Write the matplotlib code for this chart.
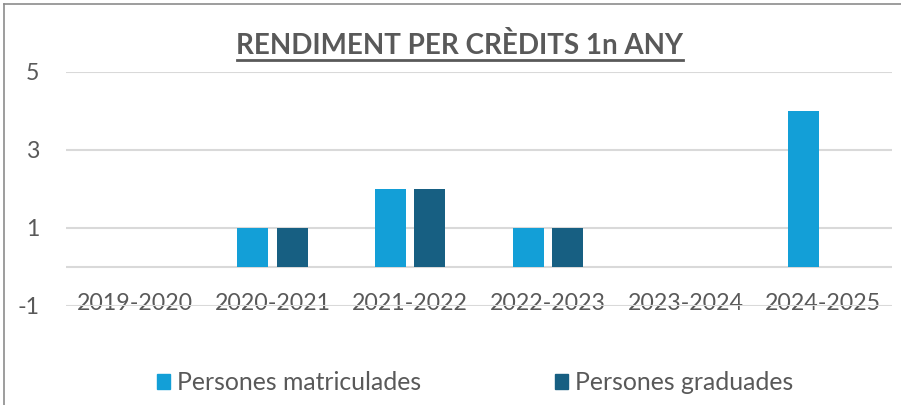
import matplotlib
matplotlib.use("Agg")
import matplotlib.pyplot as plt
import numpy as np
from matplotlib.lines import Line2D
from matplotlib.patches import Rectangle

categories = ["2019-2020", "2020-2021", "2021-2022", "2022-2023", "2023-2024", "2024-2025"]
matriculades = [0, 1, 2, 1, 0, 4]
graduades = [0, 1, 2, 1, 0, 0]
series_names = ["Persones matriculades", "Persones graduades"]
yticks = [-1, 1, 3, 5]
title = "RENDIMENT PER CRÈDITS 1n ANY"

c_light = "#139FD7"
c_dark = "#175F82"
txt = "#595959"
grid = "#D9D9D9"

plt.rcParams['font.family'] = ['Lato', 'DejaVu Sans']

fig = plt.figure(figsize=(9.01, 4.05), dpi=100)
ax = fig.add_axes([66/901, 1-306/405, (892-66)/901, (306-72)/405])

x = np.arange(len(categories))
w = 0.225
ax.bar(x - 0.143, matriculades, width=w, color=c_light, zorder=3)
ax.bar(x + 0.143, graduades, width=w, color=c_dark, zorder=3)

ax.set_xlim(-0.5, len(categories) - 0.5)
ax.set_ylim(-1, 5)
ax.set_yticks(yticks)
ax.set_yticklabels([str(v) for v in yticks])
ax.yaxis.grid(True, color=grid, linewidth=1.5, zorder=0)
ax.axhline(0, color=grid, linewidth=1.5, zorder=1)
ax.set_xticks(x)
ax.set_xticklabels(categories)
ax.tick_params(axis='x', length=0, pad=-9.5, labelsize=16.7, labelcolor=txt)
ax.tick_params(axis='y', length=0, pad=19, labelsize=16.7, labelcolor=txt)
for s in ax.spines.values():
    s.set_visible(False)

fig.text(460/901, 1-45/405, title, ha='center', va='center', fontsize=20,
         fontweight='bold', color=txt)
# underline
fig.add_artist(Line2D([237/901, 683/901], [1-59.5/405, 1-59.5/405], color=txt, linewidth=2))

handles = [Rectangle((0, 0), 1, 1, color=c_light), Rectangle((0, 0), 1, 1, color=c_dark)]
fig.legend(handles, series_names, loc='center', bbox_to_anchor=(475/901, 1-383/405),
           ncol=2, frameon=False, fontsize=17.8, labelcolor=txt, handlelength=0.53,
           handleheight=0.53, handletextpad=0.28, columnspacing=5.4,
           borderpad=0, borderaxespad=0)

# chart frame
fig.add_artist(Line2D([3.5/901, 3.5/901], [0, 1-3.5/405], color="#8C8C8C", linewidth=1.2))
fig.add_artist(Line2D([3.5/901, 1], [1-3.5/405, 1-3.5/405], color="#8C8C8C", linewidth=1.2))

fig.savefig("out.png", dpi=100)
